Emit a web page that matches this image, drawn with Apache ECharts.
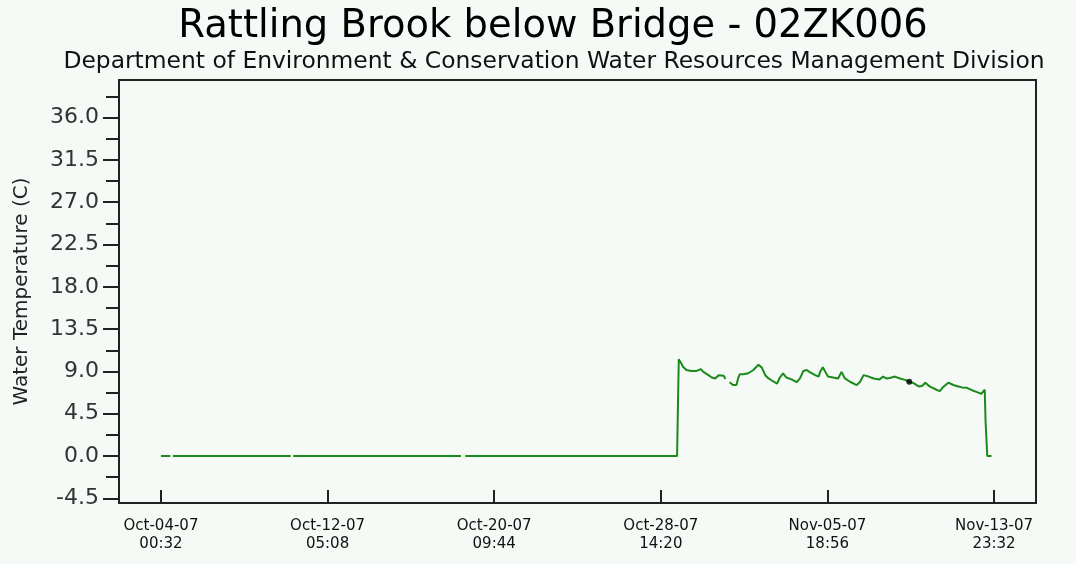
<!DOCTYPE html>
<html>
<head>
<meta charset="utf-8">
<title>Rattling Brook below Bridge - 02ZK006</title>
<script src="https://cdn.jsdelivr.net/npm/echarts@6/dist/echarts.min.js"></script>
<style>
  html, body { margin: 0; padding: 0; background: #f5faf6; }
  #chart { width: 1076px; height: 564px; }
</style>
</head>
<body>
<div id="chart"></div>
<script>
// Hourly logger readings (station 02ZK006), local time
const obsTime = [
  '2007-10-04 00:32', '2007-10-04 11:32', '2007-10-04 12:32', '2007-10-04 14:32',
  '2007-10-10 09:32', '2007-10-10 10:32', '2007-10-10 12:32',
  '2007-10-18 18:32', '2007-10-18 20:32', '2007-10-18 23:32',
  '2007-10-29 09:32', '2007-10-29 10:32', '2007-10-29 11:32', '2007-10-29 14:32',
  '2007-10-29 16:32', '2007-10-29 20:32', '2007-10-30 02:32', '2007-10-30 08:32',
  '2007-10-30 13:32', '2007-10-30 16:32', '2007-10-30 22:32', '2007-10-31 02:32',
  '2007-10-31 06:32', '2007-10-31 10:32', '2007-10-31 12:32', '2007-10-31 16:32',
  '2007-10-31 18:32', '2007-10-31 20:32', '2007-10-31 23:32', '2007-11-01 03:32',
  '2007-11-01 07:32', '2007-11-01 09:32', '2007-11-01 11:32', '2007-11-01 15:32',
  '2007-11-01 21:32', '2007-11-02 03:32', '2007-11-02 09:32', '2007-11-02 13:32',
  '2007-11-02 17:32', '2007-11-02 21:32', '2007-11-03 03:32', '2007-11-03 07:32',
  '2007-11-03 10:32', '2007-11-03 14:32', '2007-11-03 18:32', '2007-11-04 00:32',
  '2007-11-04 06:32', '2007-11-04 10:32', '2007-11-04 14:32', '2007-11-04 18:32',
  '2007-11-04 22:32', '2007-11-05 04:32', '2007-11-05 08:32', '2007-11-05 10:32',
  '2007-11-05 13:32', '2007-11-05 16:32', '2007-11-05 19:32', '2007-11-06 01:32',
  '2007-11-06 07:32', '2007-11-06 11:32', '2007-11-06 15:32', '2007-11-06 21:32',
  '2007-11-07 05:32', '2007-11-07 09:32', '2007-11-07 13:32', '2007-11-07 19:32',
  '2007-11-08 01:32', '2007-11-08 08:32', '2007-11-08 12:32', '2007-11-08 16:32',
  '2007-11-08 20:32', '2007-11-09 02:32', '2007-11-09 08:32', '2007-11-09 14:32',
  '2007-11-09 19:32', '2007-11-10 00:32', '2007-11-10 06:32', '2007-11-10 10:32',
  '2007-11-10 14:32', '2007-11-10 19:32', '2007-11-11 03:32', '2007-11-11 07:32',
  '2007-11-11 11:32', '2007-11-11 17:32', '2007-11-11 23:32', '2007-11-12 05:32',
  '2007-11-12 09:32', '2007-11-12 15:32', '2007-11-12 21:32', '2007-11-13 03:32',
  '2007-11-13 08:32', '2007-11-13 12:32', '2007-11-13 13:32', '2007-11-13 14:32',
  '2007-11-13 15:32', '2007-11-13 20:32'
];
// Water temperature (C); null = missing reading
const obsTemp = [
  0, 0, null, 0,
  0, null, 0,
  0, null, 0,
  0, 5.2, 10.3, 9.85,
  9.5, 9.15, 9.05, 9.05,
  9.25, 8.95, 8.6, 8.35,
  8.25, 8.6, 8.8, 8.55,
  8.2, null, 7.85, 7.55,
  7.55, 8.25, 8.7, 8.7,
  8.8, 9.15, 9.7, 9.4,
  8.6, 8.25, 7.9, 7.7,
  8.3, 8.8, 8.35, 8.15,
  7.85, 8.25, 9.05, 9.15,
  8.9, 8.6, 8.45, 9.0,
  9.45, 8.95, 8.45, 8.35,
  8.25, 8.95, 8.25, 7.9,
  7.55, 7.9, 8.6, 8.45,
  8.25, 8.15, 8.45, 8.25,
  8.3, 8.45, 8.25, 8.1,
  7.9, 7.75, 7.4, 7.45,
  7.8, 7.4, 7.05, 6.9,
  7.35, 7.8, 7.55, 7.4,
  7.3, 7.25, 7.0, 6.8,
  6.6, 7.05, 3.65, 3.65,
  0, 0
];

// Highlighted reading
const markTime = ['2007-11-09 19:32'];
const markTemp = [7.9];

// Axis extents and tick positions
const xRange = ['2007-10-01 23:02', '2007-11-16 01:02'];
const xTickTimes = ['2007-10-04 00:32', '2007-10-12 05:08', '2007-10-20 09:44',
                    '2007-10-28 14:20', '2007-11-05 18:56', '2007-11-13 23:32'];
const yRange = [-5, 40];
const yMajorTicks = [-4.5, 0, 4.5, 9, 13.5, 18, 22.5, 27, 31.5, 36];
const yMinorTicks = [-2.25, 2.25, 6.75, 11.25, 15.75, 20.25, 24.75, 29.25, 33.75, 38.25];

const MONTHS = ['Jan','Feb','Mar','Apr','May','Jun','Jul','Aug','Sep','Oct','Nov','Dec'];
function toMs(s) { return Date.parse(s.replace(' ', 'T') + ':00Z'); }
function pad(n) { return (n < 10 ? '0' : '') + n; }
function fmtTick(ms) {
  const d = new Date(ms);
  return MONTHS[d.getUTCMonth()] + '-' + pad(d.getUTCDate()) + '-' + pad(d.getUTCFullYear() % 100) +
         '\n' + pad(d.getUTCHours()) + ':' + pad(d.getUTCMinutes());
}

const lineData = obsTime.map((t, i) => [toMs(t), obsTemp[i]]);
const markData = markTime.map((t, i) => [toMs(t), markTemp[i]]);

const FONT = 'DejaVu Sans';
const INK = '#222';

const chart = echarts.init(document.getElementById('chart'), null, { renderer: 'canvas' });
chart.setOption({
  animation: false,
  backgroundColor: '#f5faf6',
  title: [
    {
      text: 'Rattling Brook below Bridge - 02ZK006',
      left: 548, top: 2, textAlign: 'center',
      textStyle: { fontFamily: FONT, fontSize: 38.5, fontWeight: 'normal', color: '#000' }
    },
    {
      text: 'Department of Environment & Conservation Water Resources Management Division',
      left: 549, top: 45, textAlign: 'center',
      textStyle: { fontFamily: FONT, fontSize: 23.4, fontWeight: 'normal', color: '#111' }
    }
  ],
  grid: {
    left: 119, right: 40, top: 80, bottom: 61,
    show: true, borderColor: INK, borderWidth: 2, backgroundColor: 'transparent'
  },
  xAxis: {
    type: 'value',
    min: toMs(xRange[0]), max: toMs(xRange[1]),
    splitLine: { show: false },
    axisLine: { show: true, onZero: false, lineStyle: { color: INK, width: 2 } },
    axisTick: {
      show: true, inside: true, length: 13,
      customValues: xTickTimes.map(toMs),
      lineStyle: { color: INK, width: 2 }
    },
    axisLabel: {
      customValues: xTickTimes.map(toMs),
      formatter: fmtTick,
      fontFamily: FONT, fontSize: 15, lineHeight: 18, color: '#111', margin: 14
    }
  },
  yAxis: [
    {
      type: 'value', min: yRange[0], max: yRange[1], position: 'left',
      name: 'Water Temperature (C)', nameLocation: 'middle', nameGap: 87, nameRotate: 90,
      nameTextStyle: { fontFamily: FONT, fontSize: 20, color: '#222' },
      splitLine: { show: false },
      axisLine: { show: true, onZero: false, lineStyle: { color: INK, width: 2 } },
      axisTick: {
        show: true, length: 16, customValues: yMajorTicks,
        lineStyle: { color: INK, width: 2 }
      },
      axisLabel: {
        customValues: yMajorTicks,
        formatter: v => v.toFixed(1),
        fontFamily: FONT, fontSize: 22, color: '#333', margin: 20
      }
    },
    {
      type: 'value', min: yRange[0], max: yRange[1], position: 'left',
      splitLine: { show: false },
      axisLine: { show: false, onZero: false },
      axisTick: {
        show: true, length: 13, customValues: yMinorTicks,
        lineStyle: { color: INK, width: 2 }
      },
      axisLabel: { show: false }
    }
  ],
  series: [
    {
      type: 'line', data: lineData, yAxisIndex: 0,
      showSymbol: false, connectNulls: false,
      lineStyle: { color: '#1a8a1a', width: 2 }
    },
    {
      type: 'scatter', data: markData, yAxisIndex: 0,
      symbol: 'circle', symbolSize: 6, z: 5,
      itemStyle: { color: '#000' }
    }
  ]
});
</script>
</body>
</html>
